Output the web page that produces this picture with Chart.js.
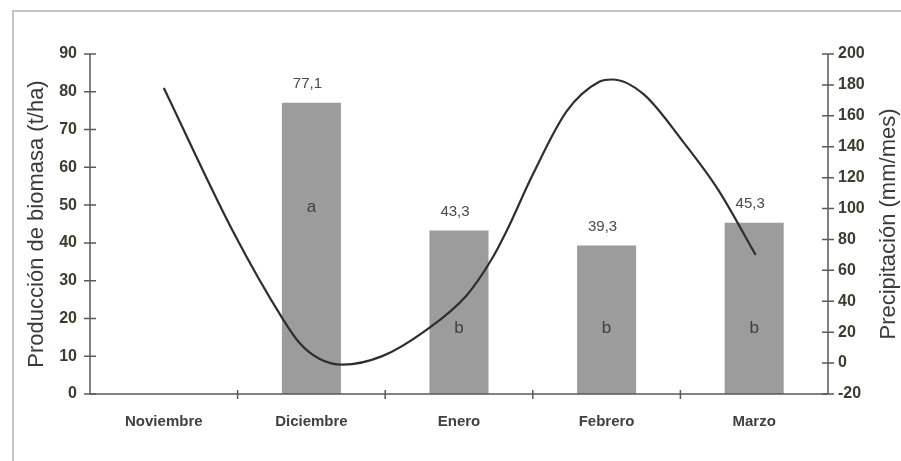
<!DOCTYPE html>
<html>
<head>
<meta charset="utf-8">
<style>
  html, body { margin: 0; padding: 0; background: #ffffff; }
  #wrap { position: relative; width: 901px; height: 461px; }
</style>
<script src="https://cdn.jsdelivr.net/npm/chart.js@4/dist/chart.umd.min.js"></script>
</head>
<body>
<div id="wrap"><canvas id="c" width="901" height="461"></canvas></div>
<script>
// ---- data ----
const months = ['Noviembre', 'Diciembre', 'Enero', 'Febrero', 'Marzo'];
const biomass = [null, 77.1, 43.3, 39.3, 45.3];
const biomassLabels = ['', '77,1', '43,3', '39,3', '45,3'];
const letters = ['', 'a', 'b', 'b', 'b'];
// precipitation curve (x in month index units)
const precipX = [0.00, 0.47, 0.81, 0.92, 1.05, 1.21, 1.48, 1.78, 2.05, 2.22, 2.32, 2.50, 2.73, 2.95, 3.04, 3.25, 3.52, 3.75, 4.01];
const precipY = [178, 85, 28, 13, 3, -1, 4.5, 21.5, 43.6, 67, 85, 122, 163, 182, 183.5, 174, 143, 113, 70];
const leftTicks = { min: 0, max: 90, step: 10 };
const rightTicks = { min: -20, max: 200, step: 20 };

const precipPoints = precipX.map((x, i) => ({ x: x, y: precipY[i] }));

const yTickFont = { family: "'Liberation Sans', Arial, sans-serif", size: 16, weight: 'bold' };
const xTickFont = { family: "'Liberation Sans', Arial, sans-serif", size: 15, weight: 'bold' };
const axisColor = '#5a5a5a';

const decor = {
  id: 'decor',
  beforeDraw(chart) {
    const ctx = chart.ctx;
    ctx.save();
    ctx.fillStyle = '#ffffff';
    ctx.fillRect(0, 0, chart.width, chart.height);
    // frame
    ctx.strokeStyle = '#c4c4c4';
    ctx.lineWidth = 2;
    ctx.beginPath();
    ctx.moveTo(13, 461);
    ctx.lineTo(13, 11);
    ctx.lineTo(901, 11);
    ctx.stroke();
    ctx.restore();
  },
  afterDatasetsDraw(chart) {
    const ctx = chart.ctx;
    const a = chart.chartArea;
    const x = chart.scales.x, y = chart.scales.y, y1 = chart.scales.y1;
    ctx.save();
    // axes lines
    ctx.strokeStyle = axisColor;
    ctx.lineWidth = 1.5;
    ctx.beginPath();
    ctx.moveTo(a.left, a.top); ctx.lineTo(a.left, a.bottom);
    ctx.moveTo(a.right, a.top); ctx.lineTo(a.right, a.bottom);
    ctx.moveTo(a.left, a.bottom); ctx.lineTo(a.right, a.bottom);
    ctx.stroke();
    // cross ticks
    ctx.beginPath();
    y.ticks.forEach((t, i) => {
      const py = y.getPixelForTick(i);
      ctx.moveTo(a.left - 6, py); ctx.lineTo(a.left + 6, py);
    });
    y1.ticks.forEach((t, i) => {
      const py = y1.getPixelForTick(i);
      ctx.moveTo(a.right - 6, py); ctx.lineTo(a.right + 6, py);
    });
    for (let i = 0; i < months.length - 1; i++) {
      const px = (x.getPixelForValue(i) + x.getPixelForValue(i + 1)) / 2;
      ctx.moveTo(px, a.bottom - 4); ctx.lineTo(px, a.bottom + 5);
    }
    ctx.stroke();

    // value labels and letters
    ctx.textAlign = 'center';
    ctx.textBaseline = 'middle';
    const meta = chart.getDatasetMeta(1);
    meta.data.forEach((bar, i) => {
      if (biomass[i] == null) return;
      ctx.fillStyle = '#4a4a4a';
      ctx.font = "15px 'Liberation Sans', Arial, sans-serif";
      ctx.fillText(biomassLabels[i], bar.x - 4, y.getPixelForValue(biomass[i]) - 19);
      ctx.fillStyle = '#3f3f3f';
      ctx.font = "17px 'Liberation Sans', Arial, sans-serif";
      const ly = letters[i] === 'a' ? y.getPixelForValue(49.5) : y.getPixelForValue(17.4);
      ctx.fillText(letters[i], bar.x, ly);
    });

    // axis titles
    ctx.fillStyle = '#3a3a3a';
    ctx.font = "22px 'Liberation Sans', Arial, sans-serif";
    ctx.translate(37, (a.top + a.bottom) / 2);
    ctx.rotate(-Math.PI / 2);
    ctx.fillText('Producción de biomasa (t/ha)', 0, 0);
    ctx.setTransform(1, 0, 0, 1, 0, 0);
    ctx.translate(889, (a.top + a.bottom) / 2);
    ctx.rotate(-Math.PI / 2);
    ctx.fillText('Precipitación (mm/mes)', 0, 0);
    ctx.restore();
  }
};

new Chart(document.getElementById('c'), {
  data: {
    labels: months,
    datasets: [
      {
        type: 'line',
        label: 'Precipitación',
        data: precipPoints,
        xAxisID: 'xl',
        yAxisID: 'y1',
        borderColor: '#2e2e2e',
        borderWidth: 2.2,
        pointRadius: 0,
        cubicInterpolationMode: 'monotone',
        fill: false,
        order: 0
      },
      {
        type: 'bar',
        label: 'Biomasa',
        data: biomass,
        xAxisID: 'x',
        yAxisID: 'y',
        backgroundColor: '#9c9c9c',
        borderWidth: 0,
        grouped: false,
        barPercentage: 0.4,
        categoryPercentage: 1.0,
        order: 1
      }
    ]
  },
  options: {
    responsive: false,
    animation: false,
    devicePixelRatio: 1,
    layout: { padding: { top: 54, left: 0, right: 0, bottom: 0 } },
    plugins: { legend: { display: false }, tooltip: { enabled: false } },
    scales: {
      x: {
        type: 'category',
        offset: true,
        grid: { display: false, drawTicks: false },
        border: { display: false },
        ticks: { color: '#404040', font: xTickFont, padding: 19, maxRotation: 0 },
        afterFit(s) { s.height = 67; }
      },
      xl: {
        type: 'linear',
        display: false,
        min: -0.5,
        max: months.length - 0.5
      },
      y: {
        position: 'left',
        min: leftTicks.min, max: leftTicks.max,
        grid: { display: false, drawTicks: false },
        border: { display: false },
        ticks: { stepSize: leftTicks.step, color: '#3b3b30', font: yTickFont, padding: 13 },
        afterFit(s) { s.width = 90; }
      },
      y1: {
        position: 'right',
        min: rightTicks.min, max: rightTicks.max,
        grid: { display: false, drawTicks: false },
        border: { display: false },
        ticks: { stepSize: rightTicks.step, color: '#3b3b30', font: yTickFont, padding: 10 },
        afterFit(s) { s.width = 73; }
      }
    }
  },
  plugins: [decor]
});
</script>
</body>
</html>
